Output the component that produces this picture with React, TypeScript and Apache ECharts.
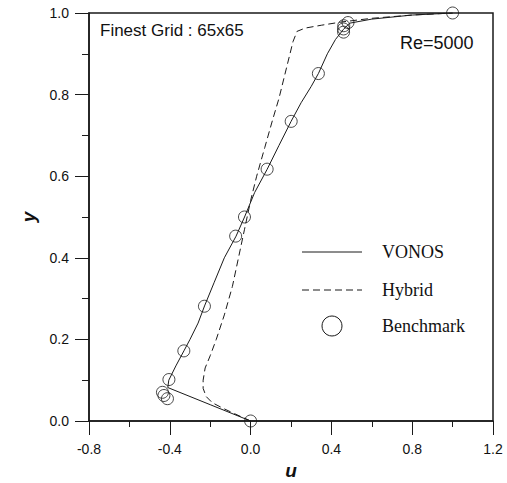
import React, { useEffect, useRef } from "react";
import * as echarts from "echarts";

const xTickLabels = ["-0.8", "-0.4", "0.0", "0.4", "0.8", "1.2"];
const yTickLabels = ["0.0", "0.2", "0.4", "0.6", "0.8", "1.0"];

// VONOS solution (solid line)
const vonosU = [0, -0.2, -0.41, -0.405, -0.37, -0.33, -0.3, -0.26, -0.228, -0.18, -0.13, -0.072, -0.03, 0.02, 0.082, 0.14, 0.2, 0.25, 0.3, 0.336, 0.38, 0.42, 0.46, 0.49, 0.6, 0.8, 1.0];
const vonosY = [0, 0.04, 0.082, 0.1, 0.135, 0.172, 0.2, 0.24, 0.282, 0.34, 0.4, 0.453, 0.5, 0.56, 0.617, 0.675, 0.734, 0.78, 0.82, 0.852, 0.9, 0.935, 0.96, 0.975, 0.985, 0.995, 1.0];

// Hybrid solution (dashed line)
const hybridU = [0, -0.08, -0.14, -0.19, -0.22, -0.235, -0.235, -0.225, -0.2, -0.17, -0.13, -0.09, -0.06, -0.03, 0, 0.03, 0.07, 0.11, 0.14, 0.18, 0.21, 0.23, 0.27, 0.35, 0.45, 0.6, 0.8, 1.0];
const hybridY = [0, 0.018, 0.032, 0.045, 0.06, 0.08, 0.1, 0.13, 0.16, 0.2, 0.26, 0.33, 0.4, 0.47, 0.54, 0.6, 0.67, 0.74, 0.79, 0.87, 0.93, 0.955, 0.963, 0.97, 0.978, 0.987, 0.995, 1.0];

// Benchmark (Ghia et al.)
const benchU = [1.0, 0.48223, 0.4612, 0.45992, 0.46036, 0.33556, 0.20087, 0.08183, -0.03039, -0.07404, -0.22855, -0.3305, -0.40435, -0.43643, -0.42901, -0.41165, 0.0];
const benchY = [1.0, 0.9766, 0.9688, 0.9609, 0.9531, 0.8516, 0.7344, 0.6172, 0.5, 0.4531, 0.2813, 0.1719, 0.1016, 0.0703, 0.0625, 0.0547, 0.0];

const legendNames = ["VONOS", "Hybrid", "Benchmark"];

const pair = (a: number[], b: number[]) => a.map((v, i) => [v, b[i]]);

export default function App() {
  const ref = useRef<HTMLDivElement>(null);
  useEffect(() => {
    if (!ref.current) return;
    const chart = echarts.init(ref.current, null, { renderer: "svg" });
    const ink = "#1a1a1a";
    const sans = "Liberation Sans, Arial, sans-serif";
    const serif = "Liberation Serif, Times New Roman, serif";
    chart.setOption({
      animation: false,
      backgroundColor: "#ffffff",
      grid: {
        left: 89,
        right: 14,
        top: 13,
        bottom: 62,
        show: true,
        borderColor: ink,
        borderWidth: 1.5,
        backgroundColor: "transparent",
      },
      xAxis: {
        type: "value",
        min: -0.8,
        max: 1.2,
        interval: 0.4,
        axisLine: { show: true, onZero: false, lineStyle: { color: ink, width: 1.5 } },
        axisTick: { show: true, length: 14, inside: false, lineStyle: { color: ink, width: 1 } },
        minorTick: { show: true, splitNumber: 2, length: 6, lineStyle: { color: ink, width: 1 } },
        splitLine: { show: false },
        minorSplitLine: { show: false },
        axisLabel: {
          margin: 21,
          color: "#111",
          fontFamily: sans,
          fontSize: 14,
          formatter: (v: number) => xTickLabels[Math.round((v + 0.8) / 0.4)] ?? "",
        },
      },
      yAxis: {
        type: "value",
        min: 0,
        max: 1,
        interval: 0.2,
        axisLine: { show: true, onZero: false, lineStyle: { color: ink, width: 1.5 } },
        axisTick: { show: true, length: 14, inside: false, lineStyle: { color: ink, width: 1 } },
        minorTick: { show: true, splitNumber: 2, length: 7, lineStyle: { color: ink, width: 1 } },
        splitLine: { show: false },
        minorSplitLine: { show: false },
        axisLabel: {
          margin: 20,
          color: "#111",
          fontFamily: sans,
          fontSize: 14,
          formatter: (v: number) => yTickLabels[Math.round(v / 0.2)] ?? "",
        },
      },
      series: [
        {
          name: legendNames[0],
          type: "line",
          data: pair(vonosU, vonosY),
          showSymbol: false,
          symbol: "none",
          lineStyle: { color: ink, width: 1 },
          z: 3,
        },
        {
          name: legendNames[1],
          type: "line",
          data: pair(hybridU, hybridY),
          showSymbol: false,
          symbol: "none",
          lineStyle: { color: ink, width: 1, type: [7, 4] },
          z: 3,
        },
        {
          name: legendNames[2],
          type: "scatter",
          data: pair(benchU, benchY),
          symbol: "circle",
          symbolSize: 12,
          itemStyle: { color: "rgba(255,255,255,0)", borderColor: ink, borderWidth: 1 },
          z: 4,
        },
      ],
      graphic: [
        {
          type: "text",
          left: 100,
          top: 22,
          style: { text: "Finest Grid : 65x65", fontFamily: sans, fontSize: 17, fill: "#111" },
        },
        {
          type: "text",
          left: 400,
          top: 34,
          style: { text: "Re=5000", fontFamily: sans, fontSize: 18, fill: "#111" },
        },
        {
          type: "text",
          x: 291,
          y: 470,
          style: { text: "u", fontFamily: sans, fontSize: 19, fontWeight: "bold", fontStyle: "italic", fill: "#111", align: "center", verticalAlign: "middle" },
        },
        {
          type: "text",
          x: 28,
          y: 217,
          rotation: Math.PI / 2,
          style: { text: "y", fontFamily: sans, fontSize: 19, fontWeight: "bold", fontStyle: "italic", fill: "#111", align: "center", verticalAlign: "middle" },
        },
        {
          type: "line",
          shape: { x1: 302, y1: 252, x2: 362, y2: 252 },
          style: { stroke: ink, lineWidth: 1 },
        },
        {
          type: "text",
          x: 382,
          y: 252,
          style: { text: legendNames[0], fontFamily: serif, fontSize: 18, fill: "#111", verticalAlign: "middle" },
        },
        {
          type: "line",
          shape: { x1: 302, y1: 290, x2: 362, y2: 290 },
          style: { stroke: ink, lineWidth: 1, lineDash: [7, 4] },
        },
        {
          type: "text",
          x: 382,
          y: 290,
          style: { text: legendNames[1], fontFamily: serif, fontSize: 18, fill: "#111", verticalAlign: "middle" },
        },
        {
          type: "circle",
          shape: { cx: 332, cy: 326, r: 10 },
          style: { fill: "none", stroke: ink, lineWidth: 1 },
        },
        {
          type: "text",
          x: 382,
          y: 326,
          style: { text: legendNames[2], fontFamily: serif, fontSize: 18, fill: "#111", verticalAlign: "middle" },
        },
      ],
    });
    return () => chart.dispose();
  }, []);
  return <div ref={ref} style={{ position: "absolute", left: 0, top: 0, width: 507, height: 483 }} />;
}
